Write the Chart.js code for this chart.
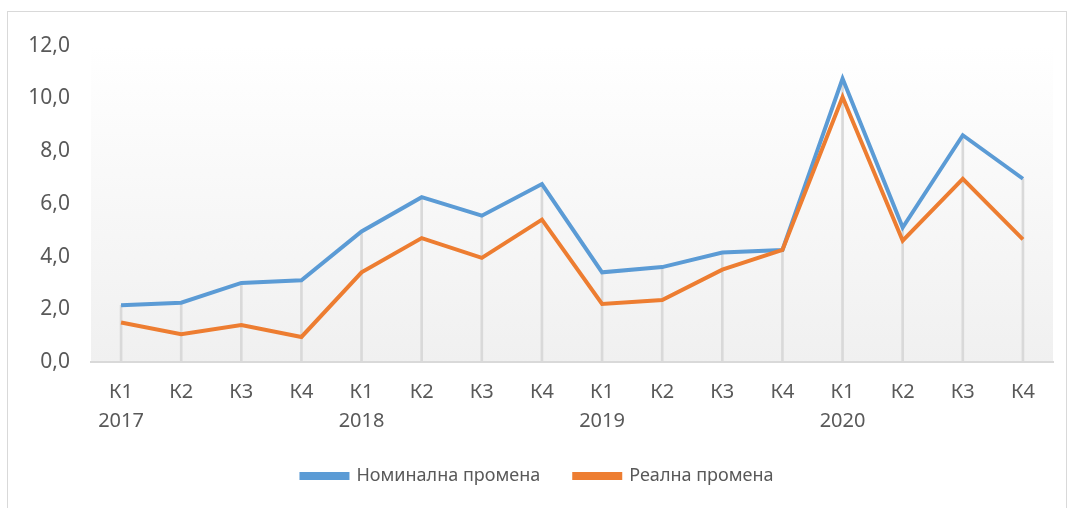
<!DOCTYPE html>
<html>
<head>
<meta charset="utf-8">
<script src="https://cdn.jsdelivr.net/npm/chart.js@4.4.1/dist/chart.umd.min.js"></script>
<style>
  html, body { margin: 0; padding: 0; background: #fff; }
  #frame {
    position: absolute; left: 7px; top: 11px;
    width: 1060px; height: 500px;
    border: 1px solid #d9d9d9;
    box-sizing: border-box;
  }
  #frame canvas { display: block; }
</style>
</head>
<body>
<div id="frame"><canvas id="chart" width="1058" height="498"></canvas></div>
<script>
const quarters = ["К1", "К2", "К3", "К4"];
const years = ["2017", "2018", "2019", "2020"];

const nominal = [2.15, 2.25, 3.0, 3.1, 4.95, 6.25, 5.55, 6.75, 3.4, 3.6, 4.15, 4.25, 10.75, 5.1, 8.6, 6.95];
const real    = [1.5, 1.05, 1.4, 0.95, 3.4, 4.7, 3.95, 5.4, 2.2, 2.35, 3.5, 4.25, 10.05, 4.6, 6.95, 4.65];

const BLUE = "#5b9bd5";
const ORANGE = "#ed7d31";
const TEXT = "#595959";
const FONT = "'Noto Sans', sans-serif";

// two-line labels: quarter, and year under each К1
const labels = [];
years.forEach(y => quarters.forEach((q, i) => labels.push(i === 0 ? [q, y] : [q, ""])));

// drop lines go up to the higher of the two series
const dropTop = nominal.map((v, i) => Math.max(v, real[i]));

// gradient fill behind the plot area
const plotBg = {
  id: "plotBg",
  beforeDraw(chart) {
    const { ctx, chartArea: a } = chart;
    const g = ctx.createLinearGradient(0, a.top, 0, a.bottom);
    g.addColorStop(0, "#ffffff");
    g.addColorStop(1, "#f0f0f0");
    ctx.save();
    ctx.fillStyle = g;
    ctx.fillRect(a.left, a.top, a.right - a.left, a.bottom - a.top);
    ctx.restore();
  }
};

const ctx = document.getElementById("chart").getContext("2d");

new Chart(ctx, {
  data: {
    labels: labels,
    datasets: [
      {
        type: "line",
        label: "Номинална промена",
        data: nominal,
        borderColor: BLUE,
        backgroundColor: BLUE,
        borderWidth: 4,
        pointRadius: 0,
        tension: 0,
        order: 1
      },
      {
        type: "line",
        label: "Реална промена",
        data: real,
        borderColor: ORANGE,
        backgroundColor: ORANGE,
        borderWidth: 4,
        pointRadius: 0,
        tension: 0,
        order: 0
      },
      {
        type: "bar",
        label: "drop",
        data: dropTop,
        backgroundColor: "#d9d9d9",
        barThickness: 2,
        order: 5
      }
    ]
  },
  options: {
    responsive: false,
    animation: false,
    layout: { padding: { top: 30, left: 14, right: 13, bottom: 15 } },
    plugins: {
      tooltip: { enabled: false },
      legend: {
        position: "bottom",
        labels: {
          filter: item => item.text !== "drop",
          sort: (a, b) => a.datasetIndex - b.datasetIndex,
          color: TEXT,
          font: { family: FONT, size: 18 },
          boxWidth: 46,
          boxHeight: 4,
          padding: 34
        }
      }
    },
    scales: {
      x: {
        offset: true,
        grid: { display: false, drawTicks: false },
        border: { display: true, color: "#d9d9d9", width: 2 },
        ticks: {
          color: TEXT,
          font: { family: FONT, size: 20, lineHeight: 1.45 },
          padding: 16,
          maxRotation: 0,
          autoSkip: false
        },
        afterFit(scale) { scale.height = 71; }
      },
      y: {
        min: 0,
        max: 12,
        grid: { display: false, drawTicks: false },
        border: { display: false },
        ticks: {
          stepSize: 2,
          color: TEXT,
          font: { family: FONT, size: 21 },
          padding: 21,
          callback: v => v.toFixed(1).replace(".", ",")
        },
        afterFit(scale) { scale.width = 69; }
      }
    }
  },
  plugins: [plotBg]
});
</script>
</body>
</html>
